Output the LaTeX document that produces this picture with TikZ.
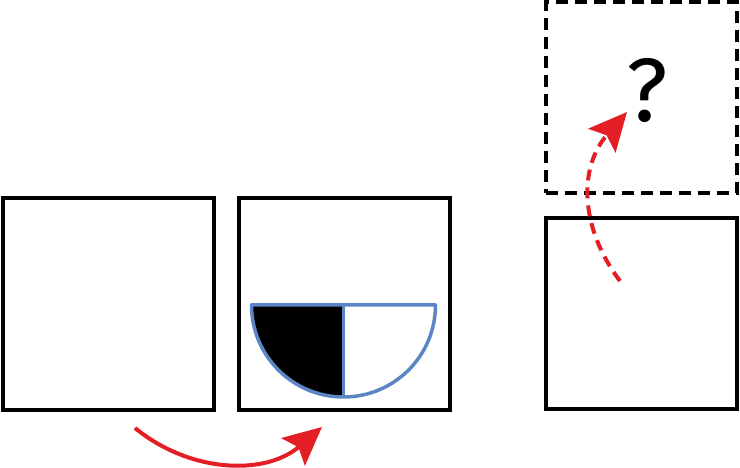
\documentclass[tikz,border=0pt]{standalone}
\usepackage{fontspec}
\setmainfont{Open Sans}
\newfontfamily\fragefont{Fira Sans}
\usetikzlibrary{arrows.meta}

\definecolor{pfeilrot}{RGB}{227,30,36}
\definecolor{kreisblau}{RGB}{91,133,197}

\begin{document}
\begin{tikzpicture}[ x=1pt, y=1pt, every node/.style={inner sep=0pt, outer sep=0pt},
    feld/.style={draw, line width=4pt, minimum width=211pt, minimum height=212pt},
    klein/.style={feld, minimum width=191pt, minimum height=191pt},
    gesucht/.style={klein, dash pattern=on 12pt off 7pt},
    drehung/.style={draw=pfeilrot, line width=4pt, -{Stealth[length=38pt, width=36pt, inset=7pt]}}]

  \useasboundingbox (0,0) rectangle (740,468);

  % Felder
  \node[feld] (links) at (108.5,164) {};
  \node[feld] (mitte) at (344.5,164) {};
  \node[klein] (rechts) at (641.5,154) {};
  \node[gesucht] (frage) at (641.5,370) {};
  \node[font=\fragefont\fontsize{90}{90}\selectfont] (zeichen) at (647,377) {?};

  % Halbkreis
  \coordinate (m) at (343.5,163);
  \fill (m) -- ++(-92,0) arc[start angle=180, end angle=270, radius=92] -- cycle;
  \draw[kreisblau, line width=3.5pt, line join=round] (m) ++(-92,0) -- ++(184,0)
      arc[start angle=0, end angle=-180, radius=92] -- cycle;
  \draw[kreisblau, line width=3.5pt] (m) -- ++(0,-92);

  % Pfeile
  \coordinate (a1) at (135,40);
  \coordinate (a2) at (322,41);
  \draw[drehung] (a1) .. controls (190,-5) and (265,-8) .. (a2);

  \coordinate (b1) at (620,187);
  \coordinate (b2) at (627,356);
  \draw[drehung, dash pattern=on 11pt off 7pt] (b1) .. controls (580,240) and (578,300) .. (b2);
\end{tikzpicture}
\end{document}
